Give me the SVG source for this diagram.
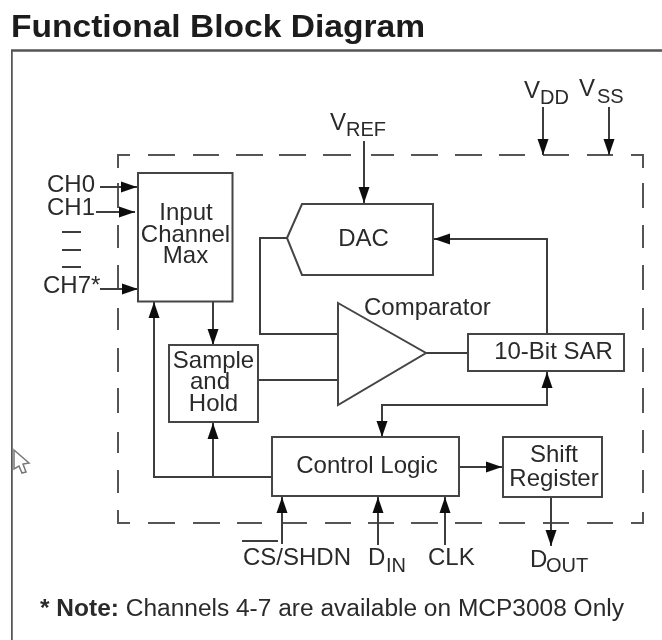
<svg xmlns="http://www.w3.org/2000/svg" width="662" height="640" viewBox="0 0 662 640">
<style>
text{font-family:"Liberation Sans",Arial,sans-serif;font-size:24px;fill:#2a2a2a}
.m{text-anchor:middle}
.b{stroke:#444;stroke-width:2;fill:#fff}
.w{stroke:#3c3c3c;stroke-width:2;fill:none}
.a{marker-end:url(#ah)}
.sub{font-size:20px}
</style>
<defs>
<marker id="ah" markerUnits="userSpaceOnUse" markerWidth="18" markerHeight="12" viewBox="0 0 17 12" refX="16" refY="6" orient="auto-start-reverse"><path d="M0,0.5L16,6L0,11.5z" fill="#111"/></marker>
<filter id="soft" x="0" y="0" width="100%" height="100%"><feGaussianBlur stdDeviation="0.45"/></filter>
</defs>
<rect width="662" height="640" fill="#fff"/>
<g filter="url(#soft)">
<text id="title" x="11" y="37" textLength="414" lengthAdjust="spacingAndGlyphs" style="font-size:32px;font-weight:bold;fill:#1a1a1a">Functional Block Diagram</text>
<path id="frame" d="M11.500,640V50.500H662" fill="none" stroke="#555" stroke-width="2.500"/>
<path id="boundary" fill="none" stroke="#555" stroke-width="2" d="M130,155H118V168M148,155H175M193,155H219M236,155H263M279,155H306M323,155H351M371,155H394M411,155H438M455,155H482M499,155H525M543,155H569M587,155H613M631,155H643V168M643,183V208M643,225V248M643,265V290M643,308V330M643,348V372M643,388V413M643,430V453M643,470V493M643,512V523H631M613,523H587M569,523H543M525,523H499M482,523H455M438,523H411M394,523H368M351,523H325M307,523H281M262,523H237M220,523H193M175,523H148M130,523H118V510M118,493V470M118,453V432M118,413V388M118,372V348M118,330V308M118,290V265M118,248V225M118,208V183"/>
<g id="connectors">
<path class="w a" d="M100,187H137"/>
<path class="w a" d="M96,212H135"/>
<path class="w a" d="M100,289H138"/>
<path class="w" d="M62,232H81M62,250H81M62,267H81"/>
<path class="w a" d="M364,141V203"/>
<path class="w a" d="M543,107V155"/>
<path class="w a" d="M609,107V155"/>
<path class="w" d="M287,238H260V334H338"/>
<path class="w" d="M258,380H338"/>
<path class="w" d="M426,353H468"/>
<path class="w a" d="M547,334V239H434"/>
<path class="w a" d="M213,302V345"/>
<path class="w a" d="M272,477H154V302"/>
<path class="w a" d="M213,477V423"/>
<path class="w" style="marker-start:url(#ah);marker-end:url(#ah)" d="M547,372V405H382V437"/>
<path class="w a" d="M459,467H502"/>
<path class="w a" d="M551,497V546"/>
<path class="w a" d="M282,544V497"/>
<path class="w a" d="M378,545V497"/>
<path class="w a" d="M445,545V497"/>
<path class="w" d="M242,541H278"/>
</g>
<g id="mux"><rect class="b" x="138" y="173" width="94.500" height="128.500"/>
<text class="m"><tspan x="186" y="220">Input</tspan><tspan x="185.500" y="242">Channel</tspan><tspan x="185.500" y="263">Max</tspan></text></g>
<g id="dac"><path class="b" d="M287,238L302,204H433V275H302z"/>
<text class="m" x="363.500" y="246">DAC</text></g>
<g id="comparator"><path class="b" d="M338,303L426,353L338,405z"/>
<text x="364" y="315">Comparator</text></g>
<g id="sar"><rect class="b" x="468" y="334" width="156" height="37"/>
<text class="m" x="553.500" y="359">10-Bit SAR</text></g>
<g id="sample-hold"><rect class="b" x="169" y="345" width="89" height="77"/>
<text class="m"><tspan x="213.500" y="368">Sample</tspan><tspan x="210" y="389">and</tspan><tspan x="213.500" y="411">Hold</tspan></text></g>
<g id="control-logic"><rect class="b" x="272" y="437" width="187" height="59"/>
<text class="m" x="367" y="473">Control Logic</text></g>
<g id="shift-register"><rect class="b" x="503" y="437" width="99" height="60"/>
<text class="m"><tspan x="554" y="462">Shift</tspan><tspan x="554" y="486">Register</tspan></text></g>
<g id="pins">
<text x="47" y="192">CH0</text>
<text x="47" y="215">CH1</text>
<text x="43" y="293">CH7*</text>
<text x="330" y="130">V<tspan class="sub" x="346" y="136">REF</tspan></text>
<text x="524" y="98">V<tspan class="sub" x="540" y="104">DD</tspan></text>
<text x="579" y="96">V<tspan class="sub" x="597" y="103">SS</tspan></text>
<text x="243" y="565">CS/SHDN</text>
<text x="368" y="565">D<tspan class="sub" x="386" y="572">IN</tspan></text>
<text x="428" y="565">CLK</text>
<text x="530" y="567">D<tspan class="sub" x="546" y="572">OUT</tspan></text>
</g>
<text id="note" x="40" y="616" textLength="584" lengthAdjust="spacingAndGlyphs" style="font-size:23px"><tspan font-weight="bold">* Note:</tspan> Channels 4-7 are available on MCP3008 Only</text>
<path id="cursor" d="M14,450L29,463L23,464L26,472L22,473L19,466L14,469z" fill="#fff" stroke="#777" stroke-width="1.500"/>
</g>
</svg>
